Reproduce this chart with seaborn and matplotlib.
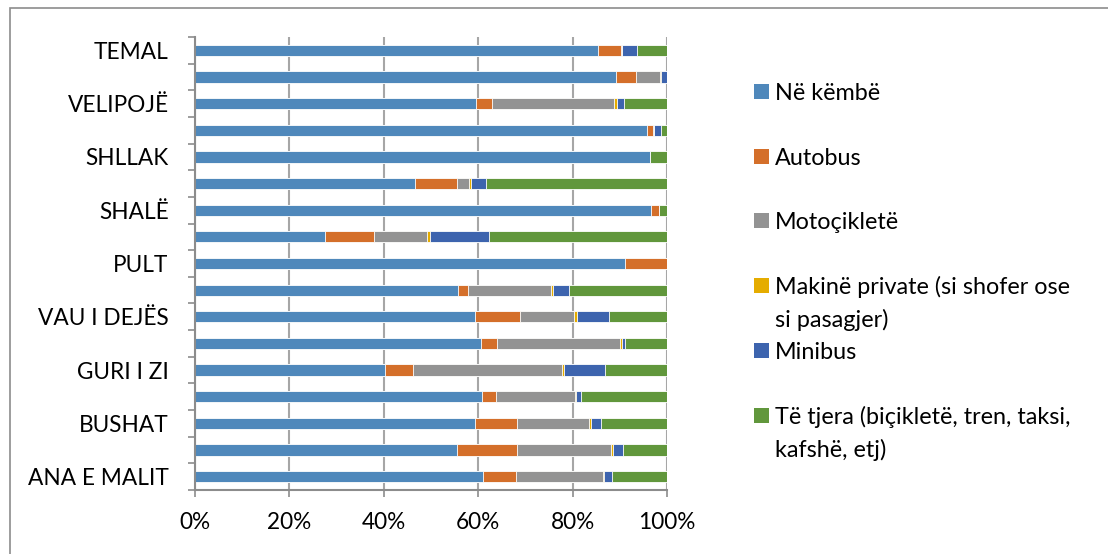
import matplotlib
matplotlib.use("Agg")
import matplotlib.pyplot as plt
import seaborn as sns
import pandas as pd
import numpy as np
from matplotlib.patches import Rectangle
from matplotlib.ticker import PercentFormatter

# communes, top to bottom as drawn (the unlabeled rows are guesses, never shown)
communes = ["TEMAL", "VIG-MNELË", "VELIPOJË", "SHOSH", "SHLLAK", "SHKODËR",
            "SHALË", "RRETHINAT", "PULT", "POSTRIBË", "VAU I DEJËS", "HAJMEL",
            "GURI I ZI", "DAJÇ", "BUSHAT", "BËRDICË", "ANA E MALIT"]
tick_labels = ["TEMAL", "", "VELIPOJË", "", "SHLLAK", "", "SHALË", "", "PULT", "",
               "VAU I DEJËS", "", "GURI I ZI", "", "BUSHAT", "", "ANA E MALIT"]

# share of each transport mode, in %
walk = [85.3, 89.1, 59.6, 95.8, 96.4, 46.6, 96.6, 27.6, 91.0, 55.8, 59.3, 60.6, 40.3, 60.9, 59.3, 55.6, 61.1]
bus = [5.0, 4.3, 3.3, 1.3, 0.0, 8.9, 1.7, 10.3, 9.0, 2.0, 9.6, 3.3, 5.9, 2.9, 9.0, 12.6, 6.9]
moto = [0.2, 5.1, 25.9, 0.2, 0.0, 2.6, 0.0, 11.3, 0.0, 17.6, 11.5, 26.2, 31.5, 16.7, 15.2, 19.9, 18.5]
car = [0.0, 0.2, 0.7, 0.0, 0.1, 0.4, 0.0, 0.5, 0.0, 0.4, 0.5, 0.3, 0.4, 0.2, 0.4, 0.5, 0.2]
minibus = [3.1, 1.3, 1.3, 1.4, 0.0, 3.2, 0.0, 12.6, 0.0, 3.4, 6.8, 0.8, 8.8, 1.1, 2.2, 2.1, 1.7]
other = [6.4, 0.0, 9.2, 1.3, 3.5, 38.3, 1.7, 37.7, 0.0, 20.8, 12.3, 8.8, 13.1, 18.2, 13.9, 9.3, 11.6]

series_names = ["Në këmbë", "Autobus", "Motoçikletë",
                "Makinë private (si shofer ose\nsi pasagjer)", "Minibus",
                "Të tjera (biçikletë, tren, taksi,\nkafshë, etj)"]
series_colors = ["#4F88BB", "#D46F2A", "#939393", "#E5AC00", "#3D64AE", "#61973C"]

df = pd.DataFrame({"commune": communes, "walk": walk, "bus": bus, "moto": moto,
                   "car": car, "minibus": minibus, "other": other})
cols = ["walk", "bus", "moto", "car", "minibus", "other"]
cum = df[cols].cumsum(axis=1)

sns.set_theme(style="white")
plt.rcParams["font.family"] = ["Lato", "DejaVu Sans"]

fig = plt.figure(figsize=(11.08, 5.54), dpi=100)
ax = fig.add_axes([195 / 1108, 1 - 490 / 554, 472 / 1108, 453 / 554])

# stacked bars: draw cumulative totals from the last series back to the first
for col, color in reversed(list(zip(cols, series_colors))):
    sns.barplot(x=cum[col], y=df["commune"], order=communes, orient="h",
                color=color, saturation=1, width=0.42,
                edgecolor="white", linewidth=0.6, ax=ax)

ax.set_xlim(0, 100)
ax.set_ylim(len(communes) - 0.5, -0.5)
ax.set_xticks([0, 20, 40, 60, 80, 100])
ax.xaxis.set_major_formatter(PercentFormatter(100, decimals=0))
ax.set_yticks(range(len(communes)))
ax.set_yticklabels(tick_labels)
ax.set_yticks(np.arange(-0.5, len(communes), 1), minor=True)
ax.set_xlabel("")
ax.set_ylabel("")

ax.xaxis.grid(True, color="#A6A6A6", linewidth=1.5)
ax.set_axisbelow(True)
for side in ["top", "right"]:
    ax.spines[side].set_visible(False)
for side in ["left", "bottom"]:
    ax.spines[side].set_color("#8C8C8C")
    ax.spines[side].set_linewidth(1.5)

ax.tick_params(axis="y", which="major", length=0, pad=19, labelsize=16.3, labelcolor="black")
ax.tick_params(axis="y", which="minor", left=True, length=5, width=1.2, color="#8C8C8C")
ax.tick_params(axis="x", which="major", bottom=True, length=5, width=1.2, color="#8C8C8C",
               pad=11, labelsize=16.3, labelcolor="black")

# legend drawn by hand so wrapped labels keep the square on the first line
legend_y = [92, 157, 221, 286, 351, 416]
for name, color, y in zip(series_names, series_colors, legend_y):
    fig.patches.append(Rectangle((754 / 1108, 1 - (y + 7) / 554), 15 / 1108, 15 / 554,
                                 transform=fig.transFigure, facecolor=color, edgecolor="none"))
    for i, line in enumerate(name.split("\n")):
        fig.text(775 / 1108, 1 - (y + 8 + 33 * i) / 554, line, ha="left", va="baseline",
                 fontsize=16.8, color="black")

# outer chart frame
fig.patches.append(Rectangle((10 / 1108, -0.1), 1.2, 1.1 - 8 / 554, transform=fig.transFigure,
                             facecolor="none", edgecolor="#8C8C8C", linewidth=1.2))

fig.savefig("out.png", dpi=100)
